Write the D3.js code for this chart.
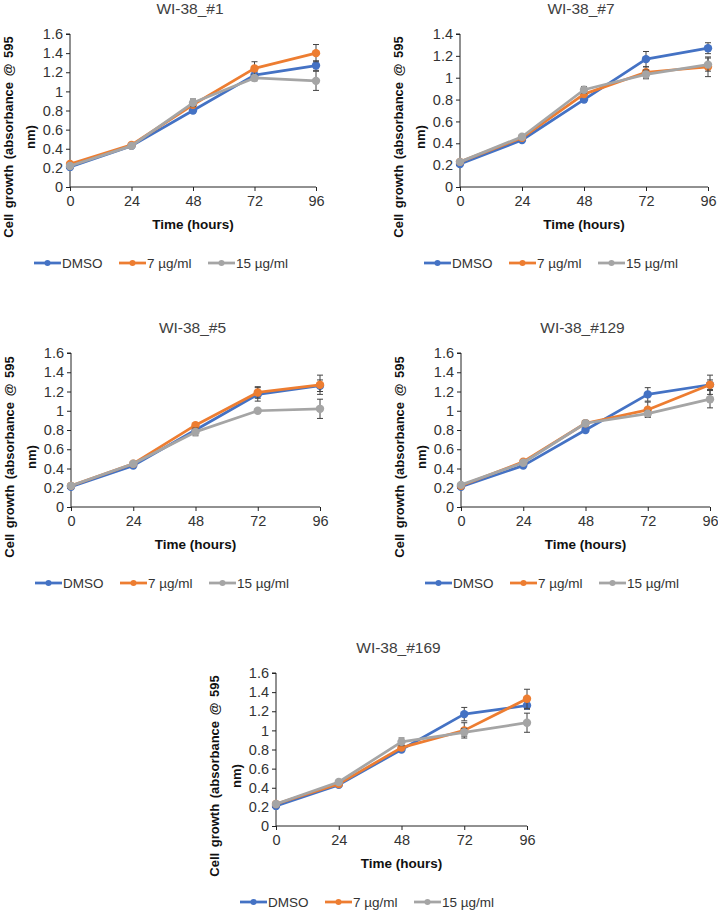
<!DOCTYPE html>
<html>
<head>
<meta charset="utf-8">
<script src="https://cdn.jsdelivr.net/npm/d3@7"></script>
<style>
  html, body { margin: 0; padding: 0; background: #ffffff; }
  svg { display: block; font-family: "Liberation Sans", Arial, sans-serif; }
</style>
</head>
<body>
<svg id="chart" width="718" height="910"></svg>
<script>
// ---- data ----
const hours = [0, 24, 48, 72, 96];
const xTicks = [0, 24, 48, 72, 96];
const seriesNames = ["DMSO", "7 µg/ml", "15 µg/ml"];
const panelTitles = ["WI-38_#1", "WI-38_#7", "WI-38_#5", "WI-38_#129", "WI-38_#169"];
const yMax = [1.6, 1.4, 1.6, 1.6, 1.6];

// WI-38_#1
const p1_dmso = [0.21, 0.43, 0.80, 1.17, 1.27];
const p1_7 = [0.24, 0.44, 0.86, 1.24, 1.40];
const p1_15 = [0.22, 0.43, 0.88, 1.14, 1.11];
const p1_dmso_err = [0.01, 0.01, 0.02, 0.04, 0.05];
const p1_7_err = [0.01, 0.01, 0.02, 0.07, 0.09];
const p1_15_err = [0.01, 0.01, 0.04, 0.03, 0.10];
// WI-38_#7
const p2_dmso = [0.21, 0.43, 0.80, 1.17, 1.27];
const p2_7 = [0.23, 0.45, 0.85, 1.05, 1.10];
const p2_15 = [0.23, 0.46, 0.89, 1.03, 1.12];
const p2_dmso_err = [0.01, 0.01, 0.02, 0.07, 0.05];
const p2_7_err = [0.01, 0.01, 0.02, 0.05, 0.09];
const p2_15_err = [0.01, 0.01, 0.03, 0.04, 0.06];
// WI-38_#5
const p3_dmso = [0.21, 0.43, 0.80, 1.17, 1.26];
const p3_7 = [0.22, 0.45, 0.85, 1.19, 1.27];
const p3_15 = [0.22, 0.45, 0.78, 1.00, 1.02];
const p3_dmso_err = [0.01, 0.01, 0.02, 0.07, 0.06];
const p3_7_err = [0.01, 0.01, 0.02, 0.06, 0.10];
const p3_15_err = [0.01, 0.01, 0.04, 0.02, 0.10];
// WI-38_#129
const p4_dmso = [0.21, 0.43, 0.80, 1.17, 1.27];
const p4_7 = [0.22, 0.47, 0.87, 1.01, 1.27];
const p4_15 = [0.23, 0.46, 0.87, 0.97, 1.12];
const p4_dmso_err = [0.01, 0.01, 0.02, 0.07, 0.05];
const p4_7_err = [0.01, 0.01, 0.02, 0.08, 0.10];
const p4_15_err = [0.01, 0.01, 0.03, 0.03, 0.09];
// WI-38_#169
const p5_dmso = [0.21, 0.43, 0.80, 1.17, 1.26];
const p5_7 = [0.23, 0.44, 0.82, 1.00, 1.33];
const p5_15 = [0.23, 0.46, 0.88, 0.98, 1.08];
const p5_dmso_err = [0.01, 0.01, 0.02, 0.07, 0.04];
const p5_7_err = [0.01, 0.01, 0.02, 0.08, 0.10];
const p5_15_err = [0.01, 0.01, 0.04, 0.04, 0.10];

const colors = ["#4472C4", "#ED7D31", "#A5A5A5"];

const panelData = [
  [[p1_dmso, p1_dmso_err], [p1_7, p1_7_err], [p1_15, p1_15_err]],
  [[p2_dmso, p2_dmso_err], [p2_7, p2_7_err], [p2_15, p2_15_err]],
  [[p3_dmso, p3_dmso_err], [p3_7, p3_7_err], [p3_15, p3_15_err]],
  [[p4_dmso, p4_dmso_err], [p4_7, p4_7_err], [p4_15, p4_15_err]],
  [[p5_dmso, p5_dmso_err], [p5_7, p5_7_err], [p5_15, p5_15_err]]
];

// layout (plot frames)
const frames = [
  { x0: 70, x1: 316, top: 34, bot: 187 },
  { x0: 460, x1: 708, top: 34, bot: 187 },
  { x0: 71, x1: 320, top: 353, bot: 507 },
  { x0: 461, x1: 710, top: 353, bot: 507 },
  { x0: 276, x1: 527, top: 673, bot: 826 }
];

const svg = d3.select("#chart");

panelData.forEach((series, i) => {
  const f = frames[i];
  const g = svg.append("g");
  const x = d3.scaleLinear().domain([0, 96]).range([f.x0, f.x1]);
  const y = d3.scaleLinear().domain([0, yMax[i]]).range([f.bot, f.top]);
  const yTicks = d3.range(0, yMax[i] + 0.001, 0.2).map(v => +v.toFixed(1));

  // title
  g.append("text")
    .attr("x", (f.x0 + f.x1) / 2 - 3)
    .attr("y", f.top - 20)
    .attr("text-anchor", "middle")
    .attr("font-size", 15.5)
    .attr("fill", "#404040")
    .text(panelTitles[i]);

  // axes
  const yAxis = d3.axisLeft(y).tickValues(yTicks).tickSize(4).tickPadding(3)
    .tickFormat(d => d3.format("")(+d.toFixed(1)));
  const ga = g.append("g").attr("transform", `translate(${f.x0},0)`).call(yAxis);
  ga.select(".domain").attr("stroke", "#222").attr("d", `M-4,${f.top}H0V${f.bot}`);
  ga.selectAll("line").attr("stroke", "#222");
  ga.selectAll("text").attr("font-size", 14.5).attr("fill", "#333")
    .attr("font-family", "Liberation Sans, Arial, sans-serif");

  const xAxis = d3.axisBottom(x).tickValues(xTicks).tickSize(4).tickPadding(5);
  const gx = g.append("g").attr("transform", `translate(0,${f.bot})`).call(xAxis);
  gx.select(".domain").attr("stroke", "#222").attr("d", `M${f.x0},0H${f.x1}`);
  gx.selectAll("line").attr("stroke", "#222");
  gx.selectAll("text").attr("font-size", 14.5).attr("fill", "#333")
    .attr("font-family", "Liberation Sans, Arial, sans-serif");

  // axis titles
  g.append("text")
    .attr("x", (f.x0 + f.x1) / 2)
    .attr("y", f.bot + 42)
    .attr("text-anchor", "middle")
    .attr("font-size", 13.5)
    .attr("font-weight", "bold")
    .attr("fill", "#111")
    .text("Time (hours)");

  const cy = f.bot - 50;
  g.append("text")
    .attr("transform", `translate(${f.x0 - 57},${cy}) rotate(-90)`)
    .attr("text-anchor", "middle")
    .attr("font-size", 13)
    .attr("font-weight", "bold")
    .attr("fill", "#111")
    .attr("word-spacing", 2)
    .text("Cell growth (absorbance @ 595");
  g.append("text")
    .attr("transform", `translate(${f.x0 - 35},${cy}) rotate(-90)`)
    .attr("text-anchor", "middle")
    .attr("font-size", 13)
    .attr("font-weight", "bold")
    .attr("fill", "#111")
    .text("nm)");

  // series
  const line = d3.line().x(d => x(d[0])).y(d => y(d[1]));
  series.forEach(([vals, errs], s) => {
    const pts = hours.map((h, k) => [h, vals[k], errs[k]]);
    const eb = g.append("g").attr("stroke", "#444").attr("stroke-width", 1);
    pts.forEach(p => {
      const xx = x(p[0]);
      eb.append("line").attr("x1", xx).attr("x2", xx).attr("y1", y(p[1] - p[2])).attr("y2", y(p[1] + p[2]));
      eb.append("line").attr("x1", xx - 3).attr("x2", xx + 3).attr("y1", y(p[1] + p[2])).attr("y2", y(p[1] + p[2]));
      eb.append("line").attr("x1", xx - 3).attr("x2", xx + 3).attr("y1", y(p[1] - p[2])).attr("y2", y(p[1] - p[2]));
    });
    g.append("path").datum(pts)
      .attr("fill", "none").attr("stroke", colors[s]).attr("stroke-width", 2.75)
      .attr("stroke-linejoin", "round").attr("d", line);
    g.selectAll(null).data(pts).enter().append("circle")
      .attr("cx", d => x(d[0])).attr("cy", d => y(d[1])).attr("r", 4.2)
      .attr("fill", colors[s]);
  });

  // legend
  const ly = f.bot + 76;
  const legendOffsets = [-36, 49, 138];
  seriesNames.forEach((name, s) => {
    const lx = f.x0 + legendOffsets[s];
    g.append("line").attr("x1", lx).attr("x2", lx + 27).attr("y1", ly).attr("y2", ly)
      .attr("stroke", colors[s]).attr("stroke-width", 2.75);
    g.append("circle").attr("cx", lx + 13.5).attr("cy", ly).attr("r", 3).attr("fill", colors[s]);
    g.append("text").attr("x", lx + 28).attr("y", ly + 5)
      .attr("font-size", 13.5).attr("fill", "#333").text(name);
  });
});
</script>
</body>
</html>
